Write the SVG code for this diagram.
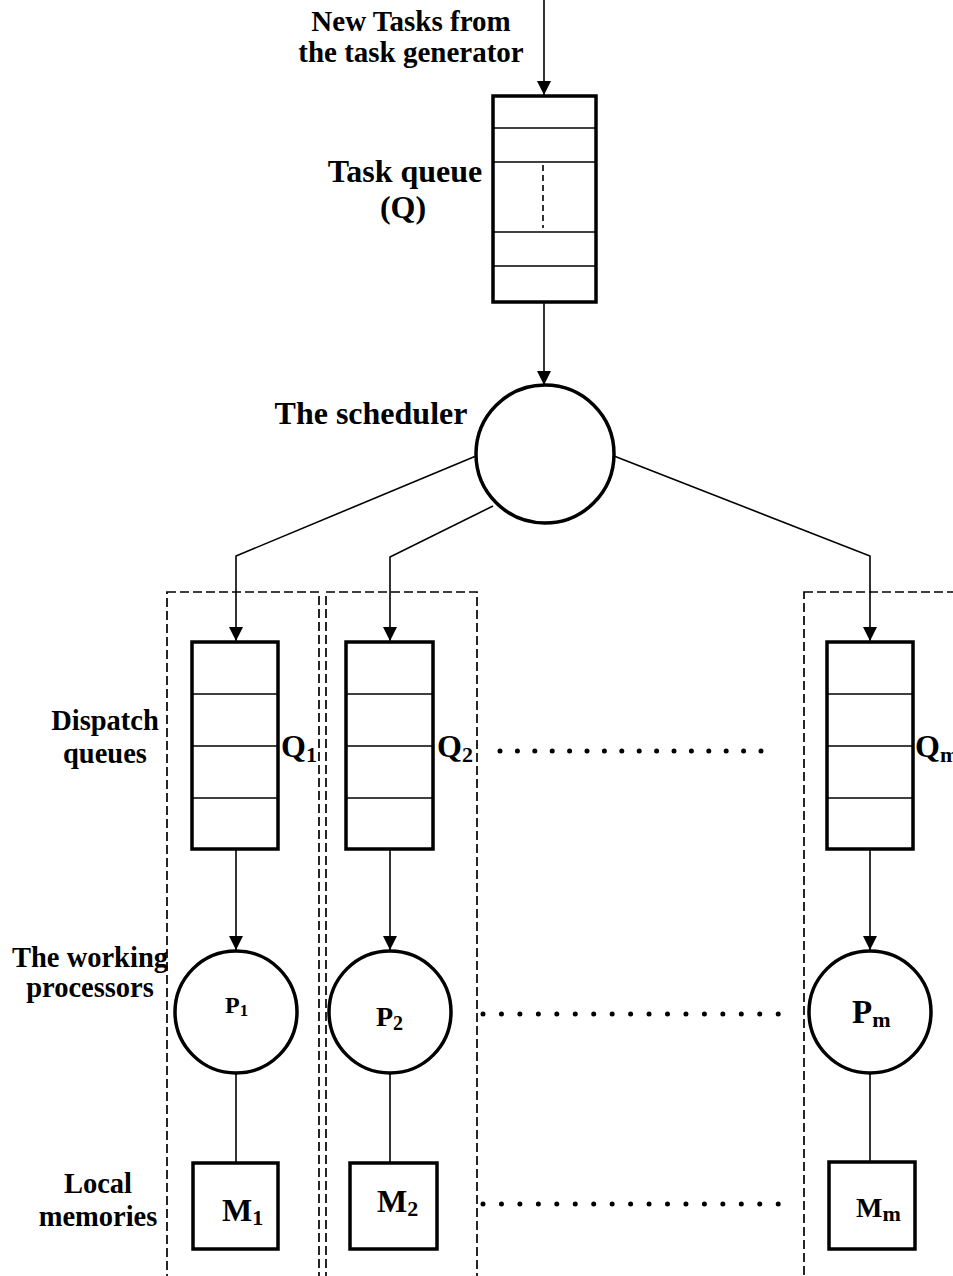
<svg xmlns="http://www.w3.org/2000/svg" width="953" height="1276" viewBox="0 0 953 1276">
<style>
text{font-family:"Liberation Serif","Times New Roman",serif;font-weight:bold;fill:#000}
.lbl{font-size:28.5px;text-anchor:middle}
.top{font-size:29px;text-anchor:middle}
.big{font-size:32px;text-anchor:middle}
.box{fill:#fff;stroke:#000;stroke-width:3.5}
.cell{stroke:#000;stroke-width:1.6;fill:none}
.conn{stroke:#000;stroke-width:1.6;fill:none}
.grp{fill:none;stroke:#000;stroke-width:1.7;stroke-dasharray:9 4}
.dots{stroke:#000;stroke-width:5;stroke-linecap:round;fill:none}
</style>
<defs>
<marker id="arr" markerUnits="userSpaceOnUse" markerWidth="14" markerHeight="16" viewBox="0 0 14 16" refX="14" refY="7" orient="auto">
<path d="M0,0 L14,7 L0,14 Z" fill="#000"/>
</marker>
</defs>
<rect width="953" height="1276" fill="#fff"/>

<g id="groups">
<rect class="grp" x="167" y="592" width="152" height="720"/>
<rect class="grp" x="326" y="592" width="151" height="720"/>
<rect class="grp" x="804" y="592" width="200" height="720"/>
</g>

<g id="connectors">
<line class="conn" x1="544" y1="0" x2="544" y2="95" marker-end="url(#arr)"/>
<line class="conn" x1="544" y1="302" x2="544" y2="385" marker-end="url(#arr)"/>
<polyline class="conn" points="476,456 236,556 236,641" marker-end="url(#arr)"/>
<polyline class="conn" points="493,506 390,557 390,641" marker-end="url(#arr)"/>
<polyline class="conn" points="614,456 870,556 870,641" marker-end="url(#arr)"/>
<line class="conn" x1="236" y1="849" x2="236" y2="950" marker-end="url(#arr)"/>
<line class="conn" x1="390" y1="849" x2="390" y2="950" marker-end="url(#arr)"/>
<line class="conn" x1="870" y1="849" x2="870" y2="950" marker-end="url(#arr)"/>
<line class="conn" x1="236" y1="1073" x2="236" y2="1163"/>
<line class="conn" x1="390" y1="1073" x2="390" y2="1163"/>
<line class="conn" x1="870" y1="1073" x2="870" y2="1162"/>
</g>

<g id="text-input">
<text class="top" x="411" y="31">New Tasks from</text>
<text class="top" x="411" y="62">the task generator</text>
</g>

<g id="task-queue">
<rect class="box" x="493" y="96" width="103" height="206"/>
<line class="cell" x1="493" y1="128" x2="596" y2="128"/>
<line class="cell" x1="493" y1="162" x2="596" y2="162"/>
<line class="cell" x1="493" y1="232" x2="596" y2="232"/>
<line class="cell" x1="493" y1="266" x2="596" y2="266"/>
<line class="cell" x1="543" y1="165" x2="543" y2="228" stroke-dasharray="6 4"/>
<text class="big" x="405" y="182">Task queue</text>
<text class="big" x="403" y="218">(Q)</text>
</g>

<g id="scheduler">
<circle cx="545" cy="454" r="69" fill="#fff" stroke="#000" stroke-width="3.5"/>
<text class="big" x="371" y="424">The scheduler</text>
</g>

<g id="q1">
<rect class="box" x="192" y="642" width="86" height="207"/>
<line class="cell" x1="192" y1="694" x2="278" y2="694"/>
<line class="cell" x1="192" y1="746" x2="278" y2="746"/>
<line class="cell" x1="192" y1="798" x2="278" y2="798"/>
<text x="281" y="757" font-size="32">Q<tspan font-size="22" dy="5">1</tspan></text>
</g>
<g id="q2">
<rect class="box" x="346" y="642" width="87" height="207"/>
<line class="cell" x1="346" y1="694" x2="433" y2="694"/>
<line class="cell" x1="346" y1="746" x2="433" y2="746"/>
<line class="cell" x1="346" y1="798" x2="433" y2="798"/>
<text x="437" y="757" font-size="32">Q<tspan font-size="22" dy="5">2</tspan></text>
</g>
<g id="qm">
<rect class="box" x="827" y="642" width="86" height="207"/>
<line class="cell" x1="827" y1="694" x2="913" y2="694"/>
<line class="cell" x1="827" y1="746" x2="913" y2="746"/>
<line class="cell" x1="827" y1="798" x2="913" y2="798"/>
<text x="915" y="757" font-size="32">Q<tspan font-size="22" dy="5">m</tspan></text>
</g>

<g id="p1">
<circle cx="236" cy="1012" r="61" fill="#fff" stroke="#000" stroke-width="3.5"/>
<text x="225" y="1013" font-size="24">P<tspan font-size="17" dy="3">1</tspan></text>
</g>
<g id="p2">
<circle cx="390" cy="1012" r="61" fill="#fff" stroke="#000" stroke-width="3.5"/>
<text x="376" y="1026" font-size="28">P<tspan font-size="20" dy="4">2</tspan></text>
</g>
<g id="pm">
<circle cx="870" cy="1012" r="61" fill="#fff" stroke="#000" stroke-width="3.5"/>
<text x="852" y="1023" font-size="33">P<tspan font-size="22" dy="4">m</tspan></text>
</g>

<g id="m1">
<rect class="box" x="193" y="1163" width="85" height="86"/>
<text x="222" y="1221" font-size="32">M<tspan font-size="22" dy="4">1</tspan></text>
</g>
<g id="m2">
<rect class="box" x="350" y="1163" width="87" height="86"/>
<text x="377" y="1212" font-size="32">M<tspan font-size="22" dy="4">2</tspan></text>
</g>
<g id="mm">
<rect class="box" x="829" y="1162" width="86" height="87"/>
<text x="856" y="1217" font-size="28">M<tspan font-size="22" dy="4">m</tspan></text>
</g>

<g id="ellipses">
<line class="dots" x1="500" y1="751" x2="762" y2="751" stroke-dasharray="0 17.4"/>
<line class="dots" x1="483" y1="1014" x2="779" y2="1014" stroke-dasharray="0 18.45"/>
<line class="dots" x1="483" y1="1204" x2="779" y2="1204" stroke-dasharray="0 18.45"/>
</g>

<g id="side-labels">
<text class="lbl" x="105" y="730">Dispatch</text>
<text class="lbl" x="105" y="763">queues</text>
<text class="lbl" x="90" y="967">The working</text>
<text class="lbl" x="90" y="997">processors</text>
<text class="lbl" x="98" y="1193">Local</text>
<text class="lbl" x="98" y="1226">memories</text>
</g>
</svg>
